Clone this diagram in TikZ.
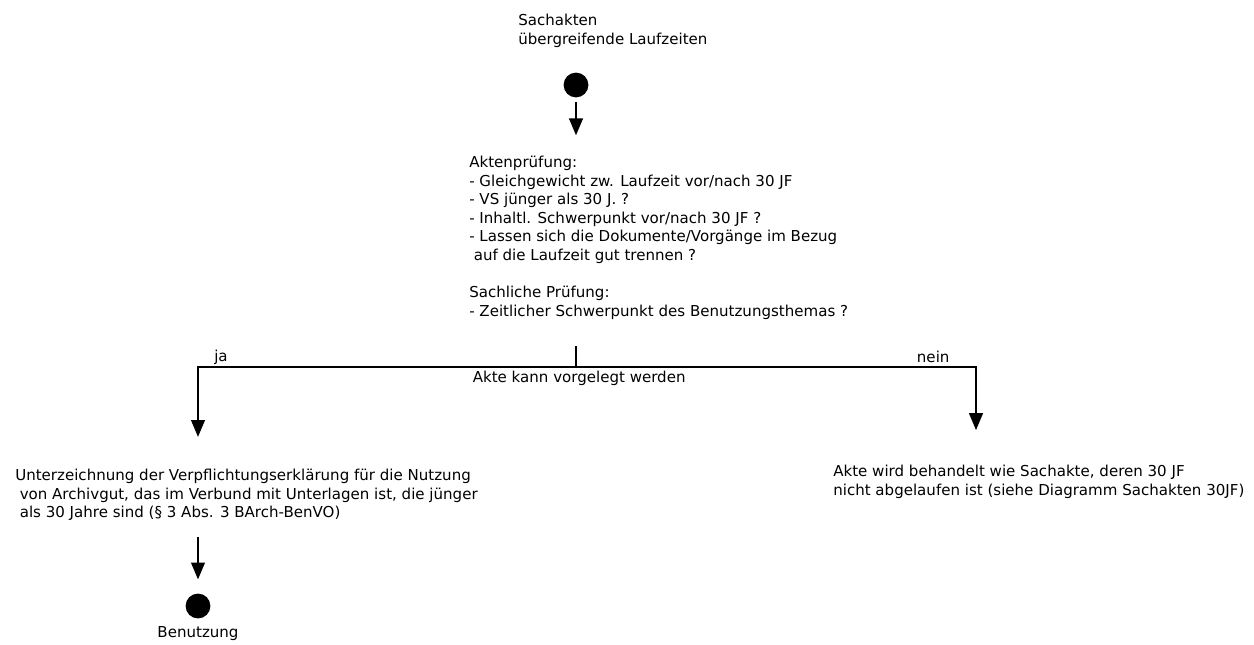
\documentclass[tikz,border=0pt]{standalone}
\usepackage{fontspec}
\setmainfont{DejaVu Sans}
\usepackage{tikz}
\usetikzlibrary{arrows,positioning}
\tikzset{dot/.style={circle,fill=black,inner sep=0pt,minimum size=0.62cm},
	txt/.style={align=left,inner sep=0pt,anchor=north west},
	flow/.style={->,line width=1.8pt}}
\begin{document}
\begin{tikzpicture}[>=triangle 45,font=\fontsize{10.7}{13.2}\selectfont]
	\useasboundingbox (0,0) rectangle (31.35,-16.1);
	\node[txt] (title) at (12.95,-0.35) {Sachakten\\übergreifende Laufzeiten};
	\node[dot] (start) at (14.4,-2.125) {};
	\node[txt] (pruef) at (11.725,-3.9) {Aktenprüfung:\\- Gleichgewicht zw. Laufzeit vor/nach 30 JF\\- VS jünger als 30 J. ?\\- Inhaltl. Schwerpunkt vor/nach 30 JF ?\\- Lassen sich die Dokumente/Vorgänge im Bezug\\\hspace{0.3em}auf die Laufzeit gut trennen ?\\[13.2pt]Sachliche Prüfung:\\- Zeitlicher Schwerpunkt des Benutzungsthemas ?};
	\draw[flow,shorten <=0.11cm,shorten >=0.52cm] (start) -- (start |- pruef.north);
	
	\coordinate (tick) at (14.4,-8.65); \coordinate (split) at (14.4,-9.175);
	\coordinate (jaend) at (4.95,-10.92); \coordinate (neinend) at (24.4,-10.75);
	\draw[line width=1.8pt] (tick) -- (split);
	\draw[flow] (split) -| (jaend); \draw[flow] (split) -| (neinend);
	\node (ja) at (5.525,-8.93) {ja}; \node (nein) at (23.33,-8.93) {nein};
	\node (vorlage) at (14.48,-9.45) {Akte kann vorgelegt werden};
	
	\node[txt] (unter) at (0.375,-11.72) {Unterzeichnung der Verpflichtungserklärung für die Nutzung\\\hspace{0.3em}von Archivgut, das im Verbund mit Unterlagen ist, die jünger\\\hspace{0.3em}als 30 Jahre sind (§ 3 Abs. 3 BArch-BenVO)};
	\node[dot] (ende) at (4.95,-15.15) {};
	\coordinate (unterend) at (4.95,-13.42);
	\draw[flow] (unterend) -- ([yshift=0.35cm]ende.north);
	\node[below=0.06cm of ende] (benutzung) {Benutzung};
	
	\node[txt] (sachakte) at (20.825,-11.62) {Akte wird behandelt wie Sachakte, deren 30 JF\\nicht abgelaufen ist (siehe Diagramm Sachakten 30JF)};
\end{tikzpicture}
\end{document}
